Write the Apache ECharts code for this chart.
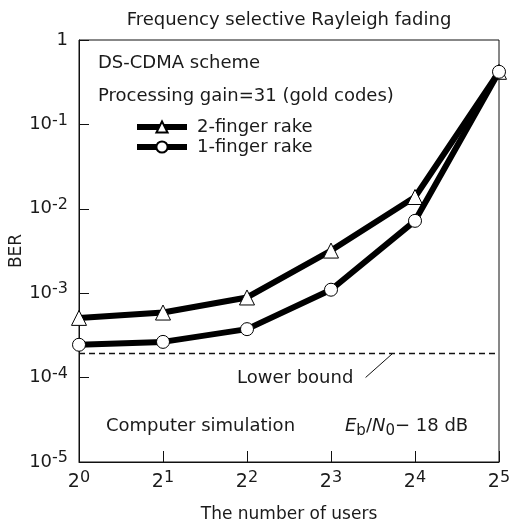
<!DOCTYPE html>
<html>
<head>
<meta charset="utf-8">
<script src="https://cdn.jsdelivr.net/npm/echarts@6/dist/echarts.min.js"></script>
<style>html,body{margin:0;padding:0;background:#fff}#c{width:510px;height:523px}</style>
</head>
<body>
<div id="c"></div>
<script>
var users = [1, 2, 4, 8, 16, 32];
var ber2Finger = [5.1e-4, 5.9e-4, 8.9e-4, 3.2e-3, 1.38e-2, 0.42];
var ber1Finger = [2.45e-4, 2.65e-4, 3.75e-4, 1.1e-3, 7.2e-3, 0.42];
var lowerBound = 1.93e-4;
var seriesNames = ['2-finger rake', '1-finger rake'];

var FONT = '"DejaVu Sans", sans-serif';
var TXT = '#1a1a1a';
var chart = echarts.init(document.getElementById('c'), null, {renderer: 'canvas'});

function supRich(size, subSize, raise) {
  return {
    b: {fontSize: size, fontFamily: FONT, color: TXT},
    s: {fontSize: subSize, fontFamily: FONT, color: TXT, verticalAlign: 'bottom', padding: [0, 0, raise, 0]}
  };
}

var option = {
  animation: false,
  backgroundColor: '#fff',
  grid: {left: 79, right: 11, top: 40, bottom: 61, containLabel: false, outerBoundsMode: 'none',
         show: true, borderColor: '#111', borderWidth: 1, backgroundColor: 'transparent'},
  legend: {
    orient: 'vertical', left: 134, top: 118, padding: 0, itemWidth: 50, itemHeight: 14, itemGap: 2,
    data: seriesNames,
    lineStyle: {width: 6},
    textStyle: {fontSize: 18, lineHeight: 14, fontFamily: FONT, color: TXT, padding: [0, 0, 0, 5]}
  },
  xAxis: {
    type: 'log', logBase: 2, min: 1, max: 32,
    name: 'The number of users', nameLocation: 'middle', nameGap: 44,
    nameTextStyle: {fontSize: 17, fontFamily: FONT, color: TXT},
    axisLine: {lineStyle: {color: '#111', width: 1}},
    axisTick: {inside: true, length: 11, lineStyle: {color: '#111'}},
    splitLine: {show: false}, minorTick: {show: false},
    axisLabel: {
      margin: 8,
      formatter: function (v) { var e = Math.round(Math.log2(v)); return '{b|2}{s|' + e + '}'; },
      rich: supRich(19, 16, 9)
    }
  },
  yAxis: {
    type: 'log', logBase: 10, min: 1e-5, max: 1,
    name: 'BER', nameLocation: 'middle', nameGap: 54, nameRotate: 90, nameMoveOverlap: false,
    nameTextStyle: {fontSize: 17, fontFamily: FONT, color: TXT},
    axisLine: {lineStyle: {color: '#111', width: 1}},
    axisTick: {inside: true, length: 10, lineStyle: {color: '#111'}},
    splitLine: {show: false},
    axisLabel: {
      margin: 11,
      formatter: function (v) {
        var e = Math.round(Math.log10(v));
        if (e === 0) return '{b|1}';
        return '{b|10}{s|' + e + '}';
      },
      rich: supRich(18, 16, 8)
    }
  },
  series: [
    {
      name: seriesNames[0], type: 'line', z: 3,
      data: users.map(function (u, i) { return [u, ber2Finger[i]]; }),
      symbol: 'triangle', symbolSize: 15, showAllSymbol: true,
      lineStyle: {color: '#000', width: 6},
      itemStyle: {color: '#fff', borderColor: '#000', borderWidth: 1}
    },
    {
      name: seriesNames[1], type: 'line', z: 4,
      data: users.map(function (u, i) { return [u, ber1Finger[i]]; }),
      symbol: 'circle', symbolSize: 13, showAllSymbol: true,
      lineStyle: {color: '#000', width: 6},
      itemStyle: {color: '#fff', borderColor: '#000', borderWidth: 1}
    },
    {
      name: 'Lower bound', type: 'line', z: 2, silent: true,
      data: [[users[0], lowerBound], [users[users.length - 1], lowerBound]],
      symbol: 'none',
      lineStyle: {color: '#111', width: 1.4, type: [6, 4]}
    }
  ]
};
chart.setOption(option);

var lbPt = chart.convertToPixel({gridIndex: 0}, [13.3, lowerBound]);
var F18 = '18px "DejaVu Sans", sans-serif';
chart.setOption({
  graphic: [
    {type: 'text', x: 289, y: 20, style: {text: 'Frequency selective Rayleigh fading', font: F18, fill: TXT, align: 'center', verticalAlign: 'middle'}},
    {type: 'text', x: 98, y: 63, style: {text: 'DS-CDMA scheme', font: F18, fill: TXT, align: 'left', verticalAlign: 'middle'}},
    {type: 'text', x: 98, y: 96, style: {text: 'Processing gain=31 (gold codes)', font: F18, fill: TXT, align: 'left', verticalAlign: 'middle'}},
    {type: 'text', x: 237, y: 378, style: {text: 'Lower bound', font: F18, fill: TXT, align: 'left', verticalAlign: 'middle'}},
    {type: 'line', shape: {x1: lbPt[0] - 27, y1: lbPt[1] + 24, x2: lbPt[0], y2: lbPt[1]}, style: {stroke: '#111', lineWidth: 1}},
    {type: 'text', x: 106, y: 426, style: {text: 'Computer simulation', font: F18, fill: TXT, align: 'left', verticalAlign: 'middle'}},
    {type: 'text', x: 345, y: 426, style: {
      text: '{i|E}{sub|b}{n|/}{i|N}{sub|0}{n|\u2212 18 dB}', align: 'left', verticalAlign: 'middle',
      rich: {
        i: {font: 'italic 18px "DejaVu Sans", sans-serif', fill: TXT},
        n: {font: F18, fill: TXT},
        sub: {font: '15px "DejaVu Sans", sans-serif', fill: TXT, verticalAlign: 'top', padding: [10, 0, 0, 0]}
      }
    }}
  ]
});
</script>
</body>
</html>
